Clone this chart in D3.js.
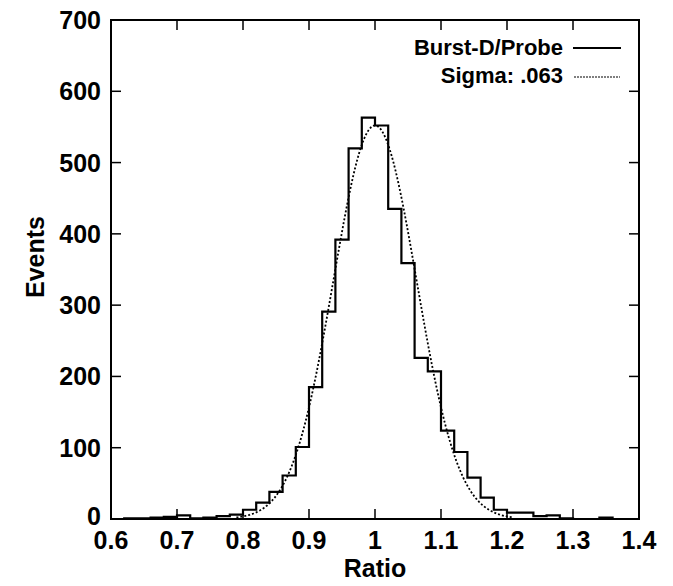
<!DOCTYPE html>
<html><head><meta charset="utf-8">
<script src="https://cdn.jsdelivr.net/npm/d3@7"></script>
<style>body{margin:0;background:#fff}svg{display:block}text{font-family:"Liberation Sans",Arial,sans-serif;font-weight:bold;fill:#000}</style>
</head><body>
<script>
// bin left edges (width 0.02)
const binStarts = [0.60,0.62,0.64,0.66,0.68,0.70,0.72,0.74,0.76,0.78,
  0.80,0.82,0.84,0.86,0.88,0.90,0.92,0.94,0.96,0.98,
  1.00,1.02,1.04,1.06,1.08,1.10,1.12,1.14,1.16,1.18,
  1.20,1.22,1.24,1.26,1.28,1.30,1.32,1.34,1.36,1.38];
const binCounts = [0,1,1,2,3,5,1,2,4,6,
  13,23,38,61,101,185,291,392,520,563,
  552,435,359,226,207,124,94,58,30,13,
  9,9,4,5,1,0,0,2,0,0];
const binWidth = 0.02;
const fitMean = 1.0, fitSigma = 0.063, fitAmp = 552;
const fitRange = [0.79, 1.21];
const xTicks = [0.6,0.7,0.8,0.9,1,1.1,1.2,1.3,1.4];
const yTicks = [0,100,200,300,400,500,600,700];
const legendLabels = ["Burst-D/Probe","Sigma: .063"];

const W=673,H=586;
const svg=d3.select("body").append("svg").attr("width",W).attr("height",H);
const x=d3.scaleLinear().domain([0.6,1.4]).range([111,639]);
const y=d3.scaleLinear().domain([0,700]).range([519,20]);
const g=svg.append("g");

// ticks (inner, mirrored)
const tl=10;
xTicks.forEach(t=>{
  g.append("line").attr("x1",x(t)).attr("x2",x(t)).attr("y1",y(0)).attr("y2",y(0)-tl).attr("stroke","#000").attr("stroke-width",1.5);
  g.append("line").attr("x1",x(t)).attr("x2",x(t)).attr("y1",y(700)).attr("y2",y(700)+tl).attr("stroke","#000").attr("stroke-width",1.5);
  g.append("text").attr("x",x(t)).attr("y",y(0)+30).attr("text-anchor","middle").attr("font-size",25).text(t===1?"1":d3.format(".1f")(t));
});
yTicks.forEach(t=>{
  g.append("line").attr("x1",x(0.6)).attr("x2",x(0.6)+tl).attr("y1",y(t)).attr("y2",y(t)).attr("stroke","#000").attr("stroke-width",1.5);
  g.append("line").attr("x1",x(1.4)).attr("x2",x(1.4)-tl).attr("y1",y(t)).attr("y2",y(t)).attr("stroke","#000").attr("stroke-width",1.5);
  g.append("text").attr("x",x(0.6)-10).attr("y",y(t)+(t===0?6:9)).attr("text-anchor","end").attr("font-size",25).text(t);
});

// histogram steps
const pts=[[binStarts[0],0]];
binStarts.forEach((s,i)=>{pts.push([s,binCounts[i]]);pts.push([s+binWidth,binCounts[i]]);});
pts.push([binStarts[binStarts.length-1]+binWidth,0]);
g.append("path").attr("d",d3.line().x(d=>x(d[0])).y(d=>y(d[1]))(pts))
  .attr("fill","none").attr("stroke","#000").attr("stroke-width",2.2);

// gaussian fit
const gx=d3.range(fitRange[0],fitRange[1]+1e-9,0.002);
g.append("path").attr("d",d3.line().x(d=>x(d)).y(d=>y(fitAmp*Math.exp(-0.5*Math.pow((d-fitMean)/fitSigma,2))))(gx))
  .attr("fill","none").attr("stroke","#000").attr("stroke-width",1.8).attr("stroke-dasharray","2,2");

// frame
g.append("rect").attr("x",x(0.6)).attr("y",y(700)).attr("width",x(1.4)-x(0.6)).attr("height",y(0)-y(700))
  .attr("fill","none").attr("stroke","#000").attr("stroke-width",2);

// legend
g.append("text").attr("x",563).attr("y",55).attr("text-anchor","end").attr("font-size",22).text(legendLabels[0]);
g.append("line").attr("x1",573).attr("x2",621).attr("y1",48).attr("y2",48).attr("stroke","#000").attr("stroke-width",1.8);
g.append("text").attr("x",563).attr("y",83).attr("text-anchor","end").attr("font-size",22).text(legendLabels[1]);
g.append("line").attr("x1",574).attr("x2",620).attr("y1",77).attr("y2",77).attr("stroke","#000").attr("stroke-width",1.2).attr("stroke-dasharray","2,1");

// axis titles
g.append("text").attr("x",375).attr("y",577).attr("text-anchor","middle").attr("font-size",25).text("Ratio");
g.append("text").attr("transform","translate(44,257) rotate(-90)").attr("text-anchor","middle").attr("font-size",25).text("Events");
</script>
</body></html>
